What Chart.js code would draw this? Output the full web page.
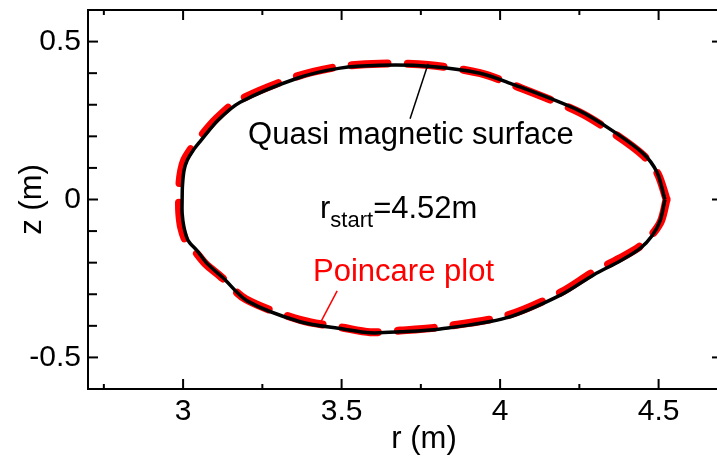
<!DOCTYPE html>
<html>
<head>
<meta charset="utf-8">
<script src="https://cdn.jsdelivr.net/npm/chart.js@4.4.0/dist/chart.umd.min.js"></script>
<style>
  html, body { margin: 0; padding: 0; overflow: hidden; background: #fff; }
  #wrap { position: absolute; left: 0; top: 0; width: 722px; height: 465px; }
</style>
</head>
<body>
<div id="wrap"><canvas id="chart" width="722" height="465"></canvas></div>
<script>
// ======= Data =======
// quasi magnetic surface, starting at the outer tip r_start and going clockwise
const surfaceR = [4.520, 4.505, 4.480, 4.442, 4.380, 4.296, 4.192, 4.019, 3.811, 3.685, 3.590, 3.505, 3.369, 3.202, 3.126, 3.076, 3.044, 3.016, 3.003, 2.997,
                  2.997, 2.998, 3.003, 3.013, 3.032, 3.054, 3.110, 3.180, 3.360, 3.495, 3.621, 3.773, 3.937, 4.032, 4.246, 4.353, 4.451, 4.495, 4.520];
const surfaceZ = [0, -0.067, -0.114, -0.155, -0.194, -0.238, -0.302, -0.375, -0.410, -0.419, -0.422, -0.410, -0.387, -0.321, -0.248, -0.203, -0.162, -0.130, -0.089, -0.044,
                  0, 0.044, 0.092, 0.124, 0.156, 0.184, 0.251, 0.308, 0.384, 0.416, 0.425, 0.422, 0.400, 0.368, 0.283, 0.219, 0.146, 0.086, 0];

// poincare plot points (red)
const poincareR = [4.525, 4.508, 4.480, 4.440, 4.376, 4.292, 4.190, 4.019, 3.811, 3.685, 3.590, 3.505, 3.369, 3.198, 3.120, 3.070, 3.036, 3.008, 2.994, 2.988,
                   2.987, 2.988, 2.994, 3.004, 3.024, 3.046, 3.104, 3.174, 3.357, 3.495, 3.621, 3.773, 3.937, 4.032, 4.246, 4.353, 4.451, 4.497, 4.525];
const poincareZ = [0, -0.067, -0.110, -0.149, -0.187, -0.231, -0.295, -0.368, -0.404, -0.415, -0.420, -0.406, -0.381, -0.316, -0.245, -0.203, -0.162, -0.130, -0.089, -0.044,
                   0, 0.044, 0.092, 0.126, 0.159, 0.188, 0.255, 0.313, 0.389, 0.421, 0.430, 0.426, 0.400, 0.366, 0.278, 0.213, 0.140, 0.082, 0];

const xTicks = [3, 3.5, 4, 4.5];
const xMinorTicks = [2.75, 3.25, 3.75, 4.25];
const yTicks = [-0.5, 0, 0.5];
const yMinorTicks = [-0.4, -0.3, -0.2, -0.1, 0.1, 0.2, 0.3, 0.4];

const FONT = 'Arial, "Liberation Sans", sans-serif';

// ======= Frame, inward ticks and labels =======
const framePlugin = {
  id: 'frame',
  afterDraw(chart) {
    const ctx = chart.ctx;
    const a = chart.chartArea;
    const xs = chart.scales.x, ys = chart.scales.y;
    const P = (r, z) => [xs.getPixelForValue(r), ys.getPixelForValue(z)];
    ctx.save();
    ctx.strokeStyle = '#000';
    ctx.lineWidth = 2;
    ctx.strokeRect(a.left, a.top, a.right - a.left, a.bottom - a.top);

    const tick = (x1, y1, x2, y2) => { ctx.beginPath(); ctx.moveTo(x1, y1); ctx.lineTo(x2, y2); ctx.stroke(); };
    xTicks.forEach(v => { const x = xs.getPixelForValue(v); tick(x, a.bottom, x, a.bottom - 10); tick(x, a.top, x, a.top + 10); });
    xMinorTicks.forEach(v => { const x = xs.getPixelForValue(v); tick(x, a.bottom, x, a.bottom - 5); tick(x, a.top, x, a.top + 5); });
    yTicks.forEach(v => { const y = ys.getPixelForValue(v); tick(a.left, y, a.left + 10, y); tick(a.right, y, a.right - 10, y); });
    yMinorTicks.forEach(v => { const y = ys.getPixelForValue(v); tick(a.left, y, a.left + 9, y); tick(a.right, y, a.right - 5, y); });

    // axis titles
    ctx.fillStyle = '#000';
    ctx.font = '31px ' + FONT;
    ctx.textAlign = 'center';
    ctx.textBaseline = 'alphabetic';
    ctx.fillText('r (m)', 424, 448);
    ctx.save();
    ctx.translate(41, (a.top + a.bottom) / 2);
    ctx.rotate(-Math.PI / 2);
    ctx.fillText('z (m)', 0, 0);
    ctx.restore();

    // annotations
    ctx.textAlign = 'left';
    ctx.lineWidth = 1.5;
    let p = P(3.205, 0.175);
    ctx.fillText('Quasi magnetic surface', p[0], p[1]);
    let p1 = P(3.716, 0.256), p2 = P(3.773, 0.430);
    tick(p1[0], p1[1], p2[0], p2[1]);

    p = P(3.432, -0.060);
    ctx.fillText('r', p[0], p[1]);
    let w = ctx.measureText('r').width;
    ctx.font = '22px ' + FONT;
    ctx.fillText('start', p[0] + w, p[1] + 9);
    w += ctx.measureText('start').width;
    ctx.font = '31px ' + FONT;
    ctx.fillText('=4.52m', p[0] + w, p[1]);

    ctx.fillStyle = '#ff0000';
    ctx.strokeStyle = '#ff0000';
    p = P(3.41, -0.257);
    ctx.fillText('Poincare plot', p[0], p[1]);
    p1 = P(3.486, -0.289); p2 = P(3.432, -0.392);
    tick(p1[0], p1[1], p2[0], p2[1]);
    ctx.restore();
  }
};

const surfacePts = surfaceR.map((r, i) => ({ x: r, y: surfaceZ[i] }));
const poincarePts = poincareR.map((r, i) => ({ x: r, y: poincareZ[i] }));

const noPad = s => { s.paddingTop = 0; s.paddingBottom = 0; s.paddingLeft = 0; s.paddingRight = 0; };

new Chart(document.getElementById('chart'), {
  type: 'scatter',
  data: {
    datasets: [
      { label: 'Quasi magnetic surface', data: surfacePts, showLine: true, borderColor: '#000', borderWidth: 3.5,
        pointRadius: 0, tension: 0.3, order: 1 },
      { label: 'Poincare plot', data: poincarePts, showLine: true, borderColor: '#ff0000', borderWidth: 8,
        borderDash: [36, 20], borderCapStyle: 'round', pointRadius: 0, tension: 0.3, order: 2 }
    ]
  },
  options: {
    responsive: false,
    animation: false,
    layout: { padding: { top: 10, right: 0, left: 0, bottom: 0 } },
    plugins: { legend: { display: false }, tooltip: { enabled: false } },
    scales: {
      x: {
        type: 'linear', min: 2.7, max: 4.7,
        grid: { display: false, drawTicks: false },
        border: { display: false },
        afterBuildTicks: s => { s.ticks = xTicks.map(v => ({ value: v })); },
        afterFit: s => { s.height = 76; noPad(s); },
        ticks: { color: '#000', padding: 5, font: { size: 30, family: FONT }, maxRotation: 0, autoSkip: false,
                 callback: v => String(v) }
      },
      y: {
        type: 'linear', min: -0.6, max: 0.6,
        grid: { display: false, drawTicks: false },
        border: { display: false },
        afterBuildTicks: s => { s.ticks = yTicks.map(v => ({ value: v })); },
        afterFit: s => { s.width = 88; noPad(s); },
        ticks: { color: '#000', padding: 7, font: { size: 30, family: FONT }, autoSkip: false,
                 callback: v => String(v) }
      }
    }
  },
  plugins: [framePlugin]
});
</script>
</body>
</html>
